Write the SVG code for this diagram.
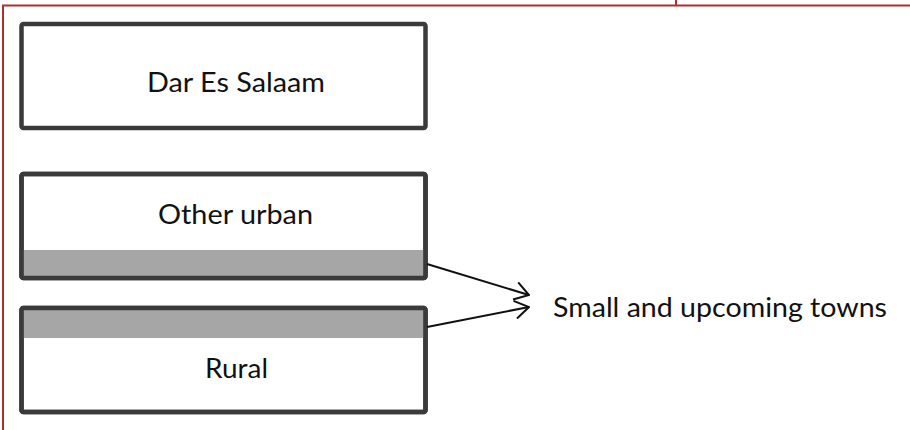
<svg xmlns="http://www.w3.org/2000/svg" width="910" height="430" viewBox="0 0 910 430">
  <style>
    .box { fill: #ffffff; stroke: #3a3a3a; stroke-width: 4.5; }
    .edge { fill: none; stroke: #3a3a3a; stroke-width: 4.5; }
    .band { fill: #a6a6a6; }
    .frame { stroke: #a8322d; stroke-width: 2; fill: none; }
    .label { font-family: Lato, "Open Sans", "Liberation Sans", sans-serif; font-size: 26px; fill: #111111; text-anchor: middle; }
    .conn { stroke: #111111; stroke-width: 2; fill: none; marker-end: url(#open); }
  </style>
  <defs>
    <marker id="open" viewBox="0 0 16 20" refX="15" refY="10" markerWidth="16" markerHeight="20" markerUnits="userSpaceOnUse" orient="auto">
      <path d="M1,1 L15,10 L1,19" fill="none" stroke="#111111" stroke-width="2"/>
    </marker>
  </defs>
  <rect width="910" height="430" fill="#ffffff"/>

  <!-- page frame -->
  <g id="frame">
    <path class="frame" d="M3,430 V5.5 H910"/>
    <line class="frame" x1="676" y1="0" x2="676" y2="5"/>
  </g>

  <g id="dar-es-salaam">
    <rect class="box" x="21.5" y="24" width="404" height="104" rx="2"/>
    <text class="label" x="236" y="92" textLength="178" lengthAdjust="spacingAndGlyphs">Dar Es Salaam</text>
  </g>

  <g id="other-urban">
    <rect class="box" x="21.5" y="174" width="404" height="104" rx="2"/>
    <rect class="band" x="23.5" y="250" width="400" height="26"/>
    <rect class="edge" x="21.5" y="174" width="404" height="104" rx="2"/>
    <text class="label" x="235.5" y="224" textLength="155" lengthAdjust="spacingAndGlyphs">Other urban</text>
  </g>

  <g id="rural">
    <rect class="box" x="21.5" y="308" width="404" height="104" rx="2"/>
    <rect class="band" x="23.5" y="310" width="400" height="28"/>
    <rect class="edge" x="21.5" y="308" width="404" height="104" rx="2"/>
    <text class="label" x="236.5" y="378" textLength="63" lengthAdjust="spacingAndGlyphs">Rural</text>
  </g>

  <g id="small-towns">
    <text class="label" x="720" y="317" textLength="334" lengthAdjust="spacingAndGlyphs">Small and upcoming towns</text>
  </g>

  <g id="connectors">
    <line class="conn" x1="427" y1="264" x2="529" y2="295"/>
    <line class="conn" x1="427" y1="327" x2="529" y2="307"/>
  </g>
</svg>
